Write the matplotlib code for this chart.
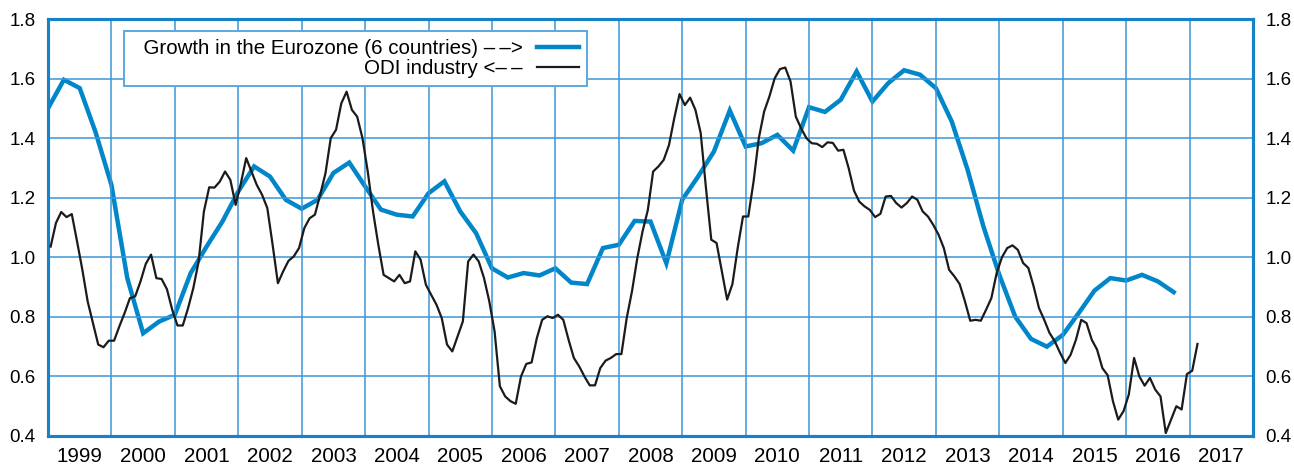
import numpy as np
import matplotlib
matplotlib.use("Agg")
import matplotlib.pyplot as plt

# Growth in the Eurozone (6 countries), quarterly, right axis
growth_start = 1999.0
growth = [
    1.50, 1.596, 1.568, 1.42,
    1.243, 0.93, 0.745, 0.784,
    0.807, 0.947, 1.036, 1.12,
    1.221, 1.305, 1.271, 1.193,
    1.163, 1.193, 1.283, 1.318,
    1.238, 1.16, 1.143, 1.137,
    1.215, 1.255, 1.154, 1.081,
    0.963, 0.932, 0.947, 0.939,
    0.963, 0.915, 0.910, 1.031,
    1.042, 1.122, 1.12, 0.98,
    1.193, 1.271, 1.355, 1.493,
    1.372, 1.383, 1.411, 1.358,
    1.504, 1.488, 1.529, 1.624,
    1.523, 1.585, 1.628, 1.613,
    1.568, 1.456, 1.294, 1.103,
    0.941, 0.801, 0.726, 0.70,
    0.739, 0.812, 0.888, 0.93,
    0.922, 0.941, 0.919, 0.883,
]

# ODI industry, monthly from Jan 1999, left axis
odi_start = 1999.0
odi = [
    1.036, 1.115, 1.152, 1.135, 1.145, 1.053, 0.958, 0.852, 0.779, 0.707, 0.698, 0.720,
    0.720, 0.768, 0.813, 0.863, 0.869, 0.919, 0.978, 1.009, 0.930, 0.927, 0.893, 0.824,
    0.771, 0.771, 0.829, 0.897, 0.986, 1.154, 1.235, 1.234, 1.254, 1.288, 1.26, 1.176,
    1.249, 1.333, 1.288, 1.243, 1.210, 1.165, 1.042, 0.913, 0.953, 0.988, 1.003, 1.031,
    1.098, 1.131, 1.143, 1.210, 1.282, 1.40, 1.428, 1.517, 1.556, 1.495, 1.472, 1.40,
    1.288, 1.154, 1.042, 0.941, 0.930, 0.919, 0.941, 0.913, 0.919, 1.020, 0.992, 0.908,
    0.874, 0.841, 0.796, 0.707, 0.684, 0.735, 0.785, 0.986, 1.009, 0.986, 0.930, 0.852,
    0.751, 0.567, 0.533, 0.517, 0.508, 0.600, 0.642, 0.647, 0.729, 0.790, 0.802, 0.796,
    0.807, 0.790, 0.723, 0.662, 0.634, 0.600, 0.570, 0.570, 0.628, 0.653, 0.662, 0.675,
    0.675, 0.796, 0.886, 0.997, 1.087, 1.159, 1.288, 1.305, 1.327, 1.377, 1.467, 1.548,
    1.511, 1.536, 1.495, 1.417, 1.232, 1.059, 1.048, 0.953, 0.858, 0.910, 1.031, 1.137,
    1.137, 1.254, 1.40, 1.489, 1.54, 1.601, 1.632, 1.637, 1.59, 1.472, 1.433, 1.40,
    1.383, 1.381, 1.37, 1.386, 1.384, 1.358, 1.361, 1.299, 1.224, 1.187, 1.171, 1.159,
    1.135, 1.146, 1.204, 1.206, 1.182, 1.167, 1.182, 1.204, 1.193, 1.154, 1.137, 1.109,
    1.076, 1.031, 0.958, 0.936, 0.910, 0.852, 0.787, 0.790, 0.787, 0.824, 0.863, 0.947,
    1.0, 1.031, 1.040, 1.025, 0.981, 0.964, 0.902, 0.830, 0.790, 0.746, 0.718, 0.679,
    0.645, 0.673, 0.723, 0.790, 0.779, 0.723, 0.690, 0.628, 0.604, 0.517, 0.455, 0.483,
    0.539, 0.662, 0.600, 0.569, 0.595, 0.556, 0.533, 0.410, 0.455, 0.500, 0.489, 0.608,
    0.619, 0.709,
]

years = list(range(1999, 2018))
y_ticks = [0.4, 0.6, 0.8, 1.0, 1.2, 1.4, 1.6, 1.8]

BLUE = "#0086c9"
GRID = "#3b97d6"
SPINE = "#1782c8"

plt.rcParams["font.family"] = ["Liberation Sans", "DejaVu Sans"]

fig = plt.figure(figsize=(12.94, 4.66), dpi=100)
ax = fig.add_axes([0.0371, 0.0644, 0.9312, 0.8948])
ax2 = ax.twinx()

# time positions: quarters start at the quarter, months at mid-month
t_growth = growth_start + 0.25 * np.arange(len(growth))
t_odi = odi_start + (np.arange(len(odi)) + 0.5) / 12

line_odi, = ax.plot(t_odi, odi, color="#1b1b1b", lw=1.6, zorder=3)
line_gr, = ax2.plot(t_growth, growth, color=BLUE, lw=3.2, zorder=4,
                    solid_joinstyle="miter")

for a in (ax, ax2):
    a.set_xlim(1999, 2018)
    a.set_ylim(0.4, 1.8)
    a.set_yticks(y_ticks)
    a.set_yticklabels(["%.1f" % v for v in y_ticks])
    for s in a.spines.values():
        s.set_color(SPINE)
        s.set_linewidth(2.2)

# year gridlines at boundaries, labels in the middle of each year
ax.set_xticks(years + [2018])
ax.set_xticks([y + 0.5 for y in years], minor=True)
ax.set_xticklabels([])
ax.set_xticklabels([str(y) for y in years], minor=True)
ax.tick_params(axis="x", which="both", length=0, labelsize=14.8, pad=8)
ax.tick_params(axis="y", length=0, labelsize=13.5, pad=9)
ax2.tick_params(axis="y", length=0, labelsize=13.5, pad=9)

ax.grid(True, which="major", color=GRID, lw=1.1)
ax.set_axisbelow(True)
ax.set_zorder(ax2.get_zorder() + 1)
ax.patch.set_visible(False)

leg = ax.legend([line_gr, line_odi],
                ["  Growth in the Eurozone (6 countries) \u2013\u2009\u2013>",
                 "ODI industry <\u2013\u2009\u2013"],
                loc="upper left", bbox_to_anchor=(0.063, 0.971),
                borderaxespad=0, markerfirst=False, fontsize=14.8,
                handlelength=2.0, handletextpad=0.7, labelspacing=0.02,
                borderpad=0.4, fancybox=False, framealpha=1)
leg.get_frame().set_edgecolor("#5aa9de")
leg.get_frame().set_linewidth(1.4)

fig.savefig("out.png", dpi=100)
